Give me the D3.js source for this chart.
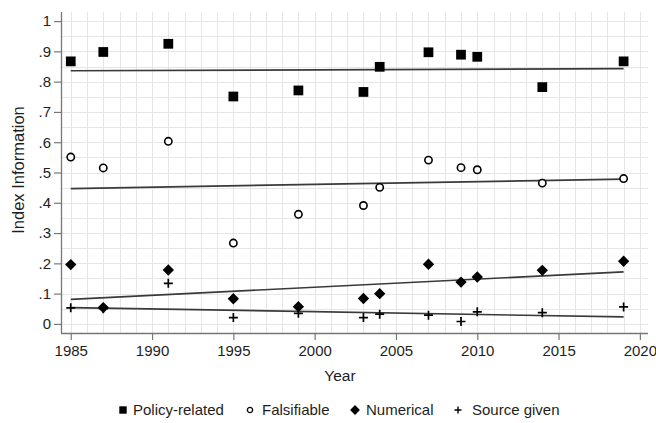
<!DOCTYPE html>
<html>
<head>
<meta charset="utf-8">
<script src="https://cdn.jsdelivr.net/npm/d3@7"></script>
<style>
  html, body { margin: 0; padding: 0; background: #fff; }
  svg { display: block; font-family: "Liberation Sans", Arial, sans-serif; }
</style>
</head>
<body>
<svg id="chart" width="656" height="423"></svg>
<script>
// Survey years
const years = [1985, 1987, 1991, 1995, 1999, 2003, 2004, 2007, 2009, 2010, 2014, 2019];

// Index values per year for each information dimension
const policyRelated = [0.867, 0.898, 0.925, 0.751, 0.771, 0.766, 0.849, 0.897, 0.889, 0.882, 0.782, 0.867];
const falsifiable   = [0.551, 0.515, 0.603, 0.267, 0.362, 0.391, 0.451, 0.541, 0.516, 0.509, 0.465, 0.480];
const numerical     = [0.196, 0.054, 0.178, 0.083, 0.057, 0.084, 0.100, 0.197, 0.138, 0.155, 0.177, 0.207];
const sourceGiven   = [0.053, 0.050, 0.134, 0.021, 0.035, 0.021, 0.032, 0.029, 0.008, 0.040, 0.037, 0.056];

// Linear fit values at the first and last survey year
const fitYears    = [1985, 2019];
const policyFit   = [0.836, 0.843];
const falsFit     = [0.447, 0.478];
const numFit      = [0.081, 0.172];
const sourceFit   = [0.054, 0.023];

// Axis ticks
const yTicks = [0, 0.1, 0.2, 0.3, 0.4, 0.5, 0.6, 0.7, 0.8, 0.9, 1];
const yTickLabels = ["0", ".1", ".2", ".3", ".4", ".5", ".6", ".7", ".8", ".9", "1"];
const xTicks = [1985, 1990, 1995, 2000, 2005, 2010, 2015, 2020];

const seriesNames = ["Policy-related", "Falsifiable", "Numerical", "Source given"];

(function draw() {
  const svg = d3.select("#chart");
  const pl = 61, pr = 648, pt = 12, pb = 333;

  const x = d3.scaleLinear().domain([1984.4, 2020.5]).range([pl, pr]);
  const y = d3.scaleLinear().domain([-0.03, 1.03]).range([pb, pt]);

  // Gridlines: one per year, one per 0.05
  const grid = svg.append("g").attr("stroke", "#e6e6e6").attr("stroke-width", 1);
  grid.selectAll("line.v").data(d3.range(1985, 2021)).join("line")
    .attr("x1", d => Math.round(x(d)) + 0.5).attr("x2", d => Math.round(x(d)) + 0.5)
    .attr("y1", pt).attr("y2", pb);
  grid.selectAll("line.h").data(d3.range(0, 21).map(i => i * 0.05)).join("line")
    .attr("y1", d => Math.round(y(d)) + 0.5).attr("y2", d => Math.round(y(d)) + 0.5)
    .attr("x1", pl).attr("x2", pr);

  // Axes
  const xAxis = d3.axisBottom(x).tickValues(xTicks).tickFormat(d3.format("d")).tickSize(7).tickPadding(5);
  const yAxis = d3.axisLeft(y).tickValues(yTicks).tickFormat((d, i) => yTickLabels[i]).tickSize(7).tickPadding(3);

  function styleAxis(g) {
    g.select(".domain").attr("stroke", "#777").attr("stroke-width", 1.3);
    g.selectAll(".tick line").attr("stroke", "#777").attr("stroke-width", 1.2);
    g.selectAll(".tick text").attr("fill", "#1e1e1e").attr("font-size", 15)
      .attr("font-family", "'Liberation Sans', Arial, sans-serif");
  }
  svg.append("g").attr("transform", `translate(0,${pb})`).call(xAxis)
    .call(g => g.select(".domain").attr("d", `M${pl},0.5H${pr}`)).call(styleAxis);
  svg.append("g").attr("transform", `translate(${pl},0)`).call(yAxis)
    .call(g => g.select(".domain").attr("d", `M0.5,${pt}V${pb}`)).call(styleAxis);

  // Axis titles
  svg.append("text").attr("x", 340).attr("y", 381).attr("text-anchor", "middle")
    .attr("font-size", 15.5).attr("fill", "#1e1e1e").text("Year");
  svg.append("text").attr("transform", "translate(24,170) rotate(-90)").attr("text-anchor", "middle")
    .attr("font-size", 16.5).attr("fill", "#1e1e1e").text("Index Information");

  // Fit lines
  const fits = [policyFit, falsFit, numFit, sourceFit];
  const line = d3.line().x((d, i) => x(fitYears[i])).y(d => y(d));
  svg.append("g").selectAll("path").data(fits).join("path")
    .attr("d", d => line(d)).attr("fill", "none").attr("stroke", "#3a3a3a").attr("stroke-width", 1.7);

  // Marker shapes
  const plus = s => `M${-s},0H${s}M0,${-s}V${s}`;
  const squarePath = d3.symbol().type(d3.symbolSquare).size(95)();
  const circlePath = d3.symbol().type(d3.symbolCircle).size(42)();
  const diamondPath = d3.symbol().type(d3.symbolSquare).size(64)();

  const pts = svg.append("g");
  // Source given: plus
  pts.selectAll("path.src").data(sourceGiven).join("path").attr("class", "src")
    .attr("transform", (d, i) => `translate(${x(years[i])},${y(d)})`)
    .attr("d", plus(4.5)).attr("stroke", "#000").attr("stroke-width", 1.7).attr("fill", "none");
  // Numerical: diamond
  pts.selectAll("path.num").data(numerical).join("path").attr("class", "num")
    .attr("transform", (d, i) => `translate(${x(years[i])},${y(d)}) rotate(45)`)
    .attr("d", diamondPath).attr("fill", "#000");
  // Falsifiable: hollow circle
  pts.selectAll("path.fal").data(falsifiable).join("path").attr("class", "fal")
    .attr("transform", (d, i) => `translate(${x(years[i])},${y(d)})`)
    .attr("d", circlePath).attr("fill", "#fff").attr("stroke", "#000").attr("stroke-width", 1.6);
  // Policy-related: square
  pts.selectAll("path.pol").data(policyRelated).join("path").attr("class", "pol")
    .attr("transform", (d, i) => `translate(${x(years[i])},${y(d)})`)
    .attr("d", squarePath).attr("fill", "#000");

  // Legend
  const legendY = 410;
  const legendItems = [
    { name: seriesNames[0], mx: 123, tx: 133, draw: g => g.append("path").attr("d", d3.symbol().type(d3.symbolSquare).size(55)()).attr("fill", "#000") },
    { name: seriesNames[1], mx: 250, tx: 262, draw: g => g.append("path").attr("d", d3.symbol().type(d3.symbolCircle).size(22)()).attr("fill", "#fff").attr("stroke", "#000").attr("stroke-width", 1.3) },
    { name: seriesNames[2], mx: 355, tx: 366, draw: g => g.append("path").attr("transform", "rotate(45)").attr("d", d3.symbol().type(d3.symbolSquare).size(48)()).attr("fill", "#000") },
    { name: seriesNames[3], mx: 458, tx: 472, draw: g => g.append("path").attr("d", plus(3.5)).attr("stroke", "#000").attr("stroke-width", 1.4) }
  ];
  const lg = svg.append("g");
  legendItems.forEach(it => {
    const g = lg.append("g").attr("transform", `translate(${it.mx},${legendY})`);
    it.draw(g);
    lg.append("text").attr("x", it.tx).attr("y", legendY + 5).attr("font-size", 15)
      .attr("fill", "#1e1e1e").text(it.name);
  });
})();
</script>
</body>
</html>
